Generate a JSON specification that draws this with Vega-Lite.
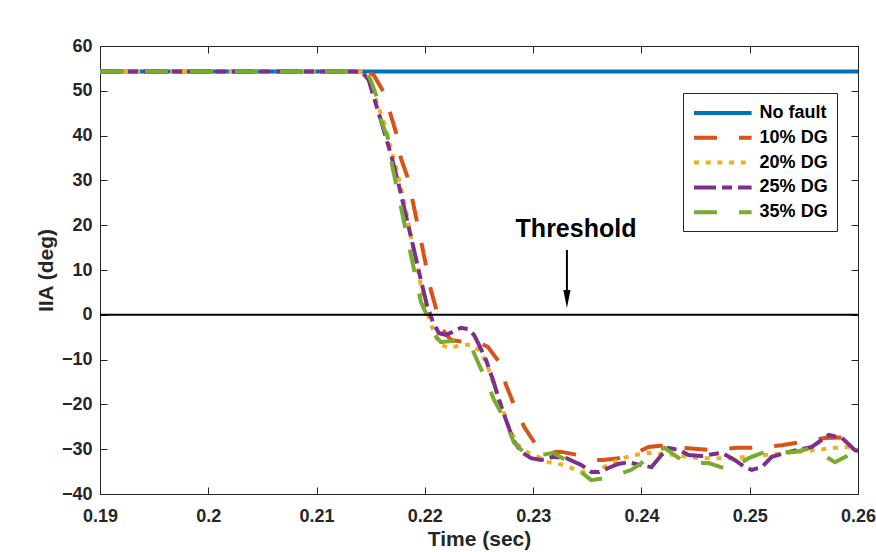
{
  "$schema": "https://vega.github.io/schema/vega-lite/v6.json",
  "width": 758,
  "height": 448,
  "autosize": "none",
  "padding": {"left": 100, "top": 46, "right": 18, "bottom": 58},
  "background": "white",
  "config": {
    "font": "Liberation Sans",
    "view": {"stroke": "#262626", "strokeWidth": 1},
    "axis": {
      "grid": false,
      "domain": false,
      "tickColor": "#262626",
      "labelColor": "#262626",
      "titleColor": "#262626",
      "labelFont": "Liberation Sans",
      "titleFont": "Liberation Sans",
      "labelFontWeight": "bold",
      "titleFontWeight": "bold",
      "labelFontSize": 18,
      "titleFontSize": 21,
      "tickSize": 7,
      "tickWidth": 1,
      "offset": -7,
      "labelFlush": false,
      "labelOverlap": false
    },
    "legend": {
      "title": null,
      "strokeColor": "#262626",
      "fillColor": "white",
      "padding": 9,
      "symbolType": "M-1,0L5.4,0",
      "symbolSize": 324,
      "symbolStrokeWidth": 4,
      "labelFontSize": 18,
      "labelFontWeight": "bold",
      "labelColor": "black",
      "labelFont": "Liberation Sans",
      "labelOffset": 45.6,
      "rowPadding": 4.8
    }
  },
  "datasets": {
    "curves": [
      {"s": "No fault", "t": 0.19, "v": 54.3},
      {"s": "No fault", "t": 0.26, "v": 54.3},

      {"s": "10% DG", "t": 0.19, "v": 54.3},
      {"s": "10% DG", "t": 0.21463, "v": 54.3},
      {"s": "10% DG", "t": 0.21528, "v": 53.5},
      {"s": "10% DG", "t": 0.2162, "v": 49.7},
      {"s": "10% DG", "t": 0.21685, "v": 44.6},
      {"s": "10% DG", "t": 0.21741, "v": 40.1},
      {"s": "10% DG", "t": 0.21778, "v": 35.0},
      {"s": "10% DG", "t": 0.21843, "v": 30.5},
      {"s": "10% DG", "t": 0.21963, "v": 16.7},
      {"s": "10% DG", "t": 0.22056, "v": 5.5},
      {"s": "10% DG", "t": 0.2212, "v": 0.0},
      {"s": "10% DG", "t": 0.22167, "v": -3.4},
      {"s": "10% DG", "t": 0.2224, "v": -5.6},
      {"s": "10% DG", "t": 0.2238, "v": -6.1},
      {"s": "10% DG", "t": 0.225, "v": -6.1},
      {"s": "10% DG", "t": 0.22583, "v": -7.2},
      {"s": "10% DG", "t": 0.22685, "v": -10.5},
      {"s": "10% DG", "t": 0.2275, "v": -15.7},
      {"s": "10% DG", "t": 0.22824, "v": -20.1},
      {"s": "10% DG", "t": 0.22917, "v": -25.0},
      {"s": "10% DG", "t": 0.23028, "v": -29.1},
      {"s": "10% DG", "t": 0.23148, "v": -30.6},
      {"s": "10% DG", "t": 0.2326, "v": -30.6},
      {"s": "10% DG", "t": 0.23417, "v": -31.3},
      {"s": "10% DG", "t": 0.23537, "v": -32.4},
      {"s": "10% DG", "t": 0.23648, "v": -32.4},
      {"s": "10% DG", "t": 0.23787, "v": -32.0},
      {"s": "10% DG", "t": 0.2391, "v": -31.3},
      {"s": "10% DG", "t": 0.24065, "v": -29.5},
      {"s": "10% DG", "t": 0.24231, "v": -29.1},
      {"s": "10% DG", "t": 0.2437, "v": -29.7},
      {"s": "10% DG", "t": 0.24648, "v": -30.2},
      {"s": "10% DG", "t": 0.2488, "v": -29.7},
      {"s": "10% DG", "t": 0.25083, "v": -29.7},
      {"s": "10% DG", "t": 0.25296, "v": -29.1},
      {"s": "10% DG", "t": 0.25481, "v": -28.4},
      {"s": "10% DG", "t": 0.25694, "v": -27.5},
      {"s": "10% DG", "t": 0.25917, "v": -27.3},
      {"s": "10% DG", "t": 0.26, "v": -27.5},

      {"s": "20% DG", "t": 0.19, "v": 54.3},
      {"s": "20% DG", "t": 0.21407, "v": 54.3},
      {"s": "20% DG", "t": 0.21463, "v": 53.5},
      {"s": "20% DG", "t": 0.21519, "v": 50.2},
      {"s": "20% DG", "t": 0.21574, "v": 46.2},
      {"s": "20% DG", "t": 0.2163, "v": 42.4},
      {"s": "20% DG", "t": 0.21685, "v": 37.2},
      {"s": "20% DG", "t": 0.21741, "v": 32.3},
      {"s": "20% DG", "t": 0.21806, "v": 25.6},
      {"s": "20% DG", "t": 0.2187, "v": 17.8},
      {"s": "20% DG", "t": 0.21926, "v": 11.1},
      {"s": "20% DG", "t": 0.21981, "v": 4.4},
      {"s": "20% DG", "t": 0.22037, "v": -0.7},
      {"s": "20% DG", "t": 0.22093, "v": -4.5},
      {"s": "20% DG", "t": 0.22148, "v": -6.7},
      {"s": "20% DG", "t": 0.22222, "v": -7.4},
      {"s": "20% DG", "t": 0.22296, "v": -7.0},
      {"s": "20% DG", "t": 0.2237, "v": -6.7},
      {"s": "20% DG", "t": 0.22426, "v": -6.7},
      {"s": "20% DG", "t": 0.225, "v": -7.9},
      {"s": "20% DG", "t": 0.22565, "v": -10.5},
      {"s": "20% DG", "t": 0.2263, "v": -15.0},
      {"s": "20% DG", "t": 0.22704, "v": -20.1},
      {"s": "20% DG", "t": 0.22778, "v": -25.3},
      {"s": "20% DG", "t": 0.22861, "v": -29.1},
      {"s": "20% DG", "t": 0.22954, "v": -30.8},
      {"s": "20% DG", "t": 0.23046, "v": -31.7},
      {"s": "20% DG", "t": 0.23139, "v": -32.9},
      {"s": "20% DG", "t": 0.23287, "v": -33.5},
      {"s": "20% DG", "t": 0.23444, "v": -35.1},
      {"s": "20% DG", "t": 0.23565, "v": -35.1},
      {"s": "20% DG", "t": 0.23722, "v": -33.1},
      {"s": "20% DG", "t": 0.23889, "v": -31.5},
      {"s": "20% DG", "t": 0.24065, "v": -30.8},
      {"s": "20% DG", "t": 0.24306, "v": -31.3},
      {"s": "20% DG", "t": 0.24528, "v": -32.0},
      {"s": "20% DG", "t": 0.24833, "v": -32.0},
      {"s": "20% DG", "t": 0.25139, "v": -31.3},
      {"s": "20% DG", "t": 0.25454, "v": -30.6},
      {"s": "20% DG", "t": 0.25602, "v": -30.2},
      {"s": "20% DG", "t": 0.25787, "v": -29.7},
      {"s": "20% DG", "t": 0.25917, "v": -29.5},
      {"s": "20% DG", "t": 0.26, "v": -30.2},

      {"s": "25% DG", "t": 0.19, "v": 54.3},
      {"s": "25% DG", "t": 0.21361, "v": 54.3},
      {"s": "25% DG", "t": 0.21426, "v": 54.0},
      {"s": "25% DG", "t": 0.21481, "v": 52.4},
      {"s": "25% DG", "t": 0.21537, "v": 47.9},
      {"s": "25% DG", "t": 0.21593, "v": 43.5},
      {"s": "25% DG", "t": 0.21648, "v": 39.0},
      {"s": "25% DG", "t": 0.217, "v": 34.6},
      {"s": "25% DG", "t": 0.21759, "v": 29.0},
      {"s": "25% DG", "t": 0.21824, "v": 22.3},
      {"s": "25% DG", "t": 0.21889, "v": 15.6},
      {"s": "25% DG", "t": 0.21963, "v": 7.8},
      {"s": "25% DG", "t": 0.22019, "v": 2.2},
      {"s": "25% DG", "t": 0.22074, "v": -1.6},
      {"s": "25% DG", "t": 0.2213, "v": -4.1},
      {"s": "25% DG", "t": 0.22194, "v": -4.5},
      {"s": "25% DG", "t": 0.2226, "v": -3.8},
      {"s": "25% DG", "t": 0.22333, "v": -2.9},
      {"s": "25% DG", "t": 0.22398, "v": -3.2},
      {"s": "25% DG", "t": 0.22454, "v": -4.5},
      {"s": "25% DG", "t": 0.225, "v": -6.7},
      {"s": "25% DG", "t": 0.22565, "v": -10.1},
      {"s": "25% DG", "t": 0.2263, "v": -14.6},
      {"s": "25% DG", "t": 0.22685, "v": -19.0},
      {"s": "25% DG", "t": 0.2275, "v": -23.5},
      {"s": "25% DG", "t": 0.22815, "v": -27.9},
      {"s": "25% DG", "t": 0.22889, "v": -30.6},
      {"s": "25% DG", "t": 0.22981, "v": -32.0},
      {"s": "25% DG", "t": 0.23074, "v": -32.4},
      {"s": "25% DG", "t": 0.23185, "v": -31.7},
      {"s": "25% DG", "t": 0.23306, "v": -32.0},
      {"s": "25% DG", "t": 0.23444, "v": -33.5},
      {"s": "25% DG", "t": 0.23537, "v": -35.1},
      {"s": "25% DG", "t": 0.2361, "v": -35.1},
      {"s": "25% DG", "t": 0.23694, "v": -34.2},
      {"s": "25% DG", "t": 0.23787, "v": -33.3},
      {"s": "25% DG", "t": 0.2388, "v": -32.9},
      {"s": "25% DG", "t": 0.23981, "v": -33.5},
      {"s": "25% DG", "t": 0.24093, "v": -34.0},
      {"s": "25% DG", "t": 0.24185, "v": -31.3},
      {"s": "25% DG", "t": 0.2425, "v": -29.7},
      {"s": "25% DG", "t": 0.24352, "v": -30.2},
      {"s": "25% DG", "t": 0.24435, "v": -31.3},
      {"s": "25% DG", "t": 0.24556, "v": -31.5},
      {"s": "25% DG", "t": 0.24741, "v": -30.8},
      {"s": "25% DG", "t": 0.24861, "v": -32.4},
      {"s": "25% DG", "t": 0.24954, "v": -34.0},
      {"s": "25% DG", "t": 0.25019, "v": -34.6},
      {"s": "25% DG", "t": 0.25111, "v": -34.0},
      {"s": "25% DG", "t": 0.25204, "v": -31.7},
      {"s": "25% DG", "t": 0.25361, "v": -30.6},
      {"s": "25% DG", "t": 0.25574, "v": -29.5},
      {"s": "25% DG", "t": 0.25731, "v": -26.8},
      {"s": "25% DG", "t": 0.25852, "v": -27.5},
      {"s": "25% DG", "t": 0.25972, "v": -30.2},
      {"s": "25% DG", "t": 0.26, "v": -30.4},

      {"s": "35% DG", "t": 0.19, "v": 54.3},
      {"s": "35% DG", "t": 0.21454, "v": 54.3},
      {"s": "35% DG", "t": 0.215, "v": 52.4},
      {"s": "35% DG", "t": 0.21556, "v": 48.6},
      {"s": "35% DG", "t": 0.216, "v": 43.0},
      {"s": "35% DG", "t": 0.21657, "v": 39.7},
      {"s": "35% DG", "t": 0.217, "v": 33.0},
      {"s": "35% DG", "t": 0.21741, "v": 28.5},
      {"s": "35% DG", "t": 0.21852, "v": 15.6},
      {"s": "35% DG", "t": 0.21963, "v": 2.9},
      {"s": "35% DG", "t": 0.22037, "v": -1.1},
      {"s": "35% DG", "t": 0.2209, "v": -4.5},
      {"s": "35% DG", "t": 0.22148, "v": -6.1},
      {"s": "35% DG", "t": 0.2226, "v": -5.8},
      {"s": "35% DG", "t": 0.22361, "v": -6.1},
      {"s": "35% DG", "t": 0.22426, "v": -7.0},
      {"s": "35% DG", "t": 0.22481, "v": -10.1},
      {"s": "35% DG", "t": 0.22565, "v": -14.6},
      {"s": "35% DG", "t": 0.22639, "v": -19.0},
      {"s": "35% DG", "t": 0.22731, "v": -23.0},
      {"s": "35% DG", "t": 0.22824, "v": -28.6},
      {"s": "35% DG", "t": 0.22917, "v": -30.8},
      {"s": "35% DG", "t": 0.23028, "v": -31.5},
      {"s": "35% DG", "t": 0.23185, "v": -30.8},
      {"s": "35% DG", "t": 0.23333, "v": -32.9},
      {"s": "35% DG", "t": 0.23444, "v": -35.1},
      {"s": "35% DG", "t": 0.23537, "v": -36.9},
      {"s": "35% DG", "t": 0.23676, "v": -36.4},
      {"s": "35% DG", "t": 0.23796, "v": -35.5},
      {"s": "35% DG", "t": 0.23907, "v": -34.6},
      {"s": "35% DG", "t": 0.24, "v": -33.1},
      {"s": "35% DG", "t": 0.24111, "v": -30.6},
      {"s": "35% DG", "t": 0.24213, "v": -29.7},
      {"s": "35% DG", "t": 0.24306, "v": -31.3},
      {"s": "35% DG", "t": 0.24398, "v": -32.9},
      {"s": "35% DG", "t": 0.2451, "v": -33.1},
      {"s": "35% DG", "t": 0.2462, "v": -33.1},
      {"s": "35% DG", "t": 0.24806, "v": -34.6},
      {"s": "35% DG", "t": 0.24991, "v": -32.0},
      {"s": "35% DG", "t": 0.25139, "v": -30.6},
      {"s": "35% DG", "t": 0.25417, "v": -30.6},
      {"s": "35% DG", "t": 0.25574, "v": -29.7},
      {"s": "35% DG", "t": 0.25787, "v": -32.9},
      {"s": "35% DG", "t": 0.25972, "v": -30.6},
      {"s": "35% DG", "t": 0.26, "v": -30.2}
    ],
    "threshold": [{"v": 0}],
    "arrow": [{"t": 0.23312, "v": 14.46, "v2": 5.5, "tip": 3.53}],
    "note": [{"t": 0.23396, "v": 19.15, "label": "Threshold"}]
  },
  "layer": [
    {
      "data": {"name": "curves"},
      "mark": {"type": "line", "strokeWidth": 4, "strokeCap": "butt", "clip": true},
      "encoding": {
        "x": {
          "field": "t", "type": "quantitative",
          "scale": {"domain": [0.19, 0.26], "nice": false, "zero": false},
          "axis": {
            "orient": "bottom", "title": "Time (sec)",
            "values": [0.19, 0.2, 0.21, 0.22, 0.23, 0.24, 0.25, 0.26],
            "format": ".2~f", "labelPadding": 13, "titlePadding": 3
          }
        },
        "y": {
          "field": "v", "type": "quantitative",
          "scale": {"domain": [-40, 60], "nice": false, "zero": false},
          "axis": {
            "orient": "left", "title": "IIA (deg)",
            "values": [-40, -30, -20, -10, 0, 10, 20, 30, 40, 50, 60],
            "format": "d", "labelPadding": 8, "titlePadding": 5
          }
        },
        "color": {
          "field": "s", "type": "nominal",
          "scale": {
            "domain": ["No fault", "10% DG", "20% DG", "25% DG", "35% DG"],
            "range": ["#0072BD", "#D95319", "#EDB120", "#7E2F8E", "#77AC30"]
          },
          "legend": {"orient": "none", "legendX": 583, "legendY": 47}
        },
        "strokeDash": {
          "field": "s", "type": "nominal",
          "scale": {
            "domain": ["No fault", "10% DG", "20% DG", "25% DG", "35% DG"],
            "range": [[1, 0], [23, 22], [5, 6.7], [22, 6, 10, 6], [23, 22]]
          },
          "legend": {"orient": "none", "legendX": 583, "legendY": 47}
        }
      }
    },
    {
      "data": {"name": "threshold"},
      "mark": {"type": "rule", "color": "black", "strokeWidth": 2},
      "encoding": {
        "y": {"field": "v", "type": "quantitative", "axis": null}
      }
    },
    {
      "data": {"name": "arrow"},
      "mark": {"type": "rule", "color": "black", "strokeWidth": 2},
      "encoding": {
        "x": {"field": "t", "type": "quantitative",
          "axis": {"orient": "top", "labels": false, "title": null,
            "values": [0.19, 0.2, 0.21, 0.22, 0.23, 0.24, 0.25, 0.26]}},
        "y": {"field": "v", "type": "quantitative",
          "axis": {"orient": "right", "labels": false, "title": null,
            "values": [-40, -30, -20, -10, 0, 10, 20, 30, 40, 50, 60]}},
        "y2": {"field": "v2"}
      }
    },
    {
      "data": {"name": "arrow"},
      "mark": {"type": "point", "shape": "M-0.4,-1L0.4,-1L0,1Z", "size": 324, "filled": true, "color": "black", "opacity": 1},
      "encoding": {
        "x": {"field": "t", "type": "quantitative", "axis": null},
        "y": {"field": "tip", "type": "quantitative", "axis": null}
      }
    },
    {
      "data": {"name": "note"},
      "mark": {"type": "text", "fontSize": 25, "fontWeight": "bold", "font": "Liberation Sans", "color": "black", "align": "center", "baseline": "middle"},
      "encoding": {
        "x": {"field": "t", "type": "quantitative", "axis": null},
        "y": {"field": "v", "type": "quantitative", "axis": null},
        "text": {"field": "label"}
      }
    }
  ],
  "resolve": {"axis": {"x": "independent", "y": "independent"}}
}
